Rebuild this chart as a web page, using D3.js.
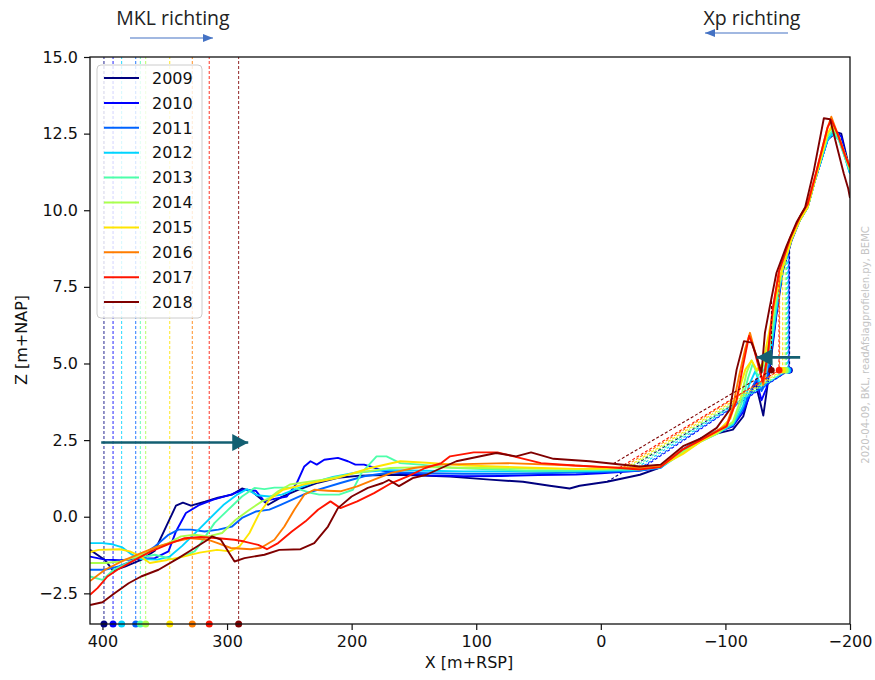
<!DOCTYPE html>
<html>
<head>
<meta charset="utf-8">
<script src="https://cdn.jsdelivr.net/npm/d3@7/dist/d3.min.js"></script>
<style>
  body { margin: 0; background: #fff; }
  text { font-family: "DejaVu Sans", sans-serif; }
</style>
</head>
<body>
<script>
/* global d3 */

// Years + jet colours
var years  = ['2009', '2010', '2011', '2012', '2013', '2014', '2015', '2016', '2017', '2018'];
var colors = ['#00007f', '#0000ff', '#0063ff', '#00d4ff', '#4dffaa', '#a9ff4d', '#ffe500', '#ff7d00', '#ff1400', '#7f0000'];

var xTicks = [400, 300, 200, 100, 0, -100, -200];
var yTicks = [-2.5, 0, 2.5, 5, 7.5, 10, 12.5, 15];

// MKL position per year (bottom dots + vertical dashed lines)
var mklX = [398.8, 391.5, 373.3, 384.6, 369.6, 365.3, 346, 327.9, 314.3, 290.7];

// Xp position per year (dashed construction lines)
var xpX     = [-151.5, -151, -150.5, -150, -149, -148, -146, -143.5, -143, -137];
var xpZ     = 4.78;
var xpTopZ  = [8.8, 8.8, 8.7, 8.7, 8.6, 8.5, 8.2, 8.0, 8.0, 7.2];
var xpFromX = [-5, -30, -28, -26, -24, -22, -20, -18, -15, -10];
var xpFromZ = [1.14, 1.5, 1.49, 1.52, 1.54, 1.59, 1.59, 1.61, 1.6, 1.73];

// Profiles [x, z]
var p2009 = [[410,-1.08],[398,-1.41],[391.5,-1.76],[382,-1.63],[369,-1.41],[358,-1.11],[349,-0.33],[341,0.36],[335.4,0.46],[329,0.36],[317.7,0.49],[307.3,0.62],[296,0.72],[288,0.92],[280,0.82],[267,0.39],[256,0.65],[243,0.88],[227,1.11],[211,1.27],[193,1.34],[161,1.37],[121,1.31],[89,1.21],[62.5,1.14],[41,1.01],[25,0.92],[17,1.01],[-5,1.14],[-31.4,1.37],[-47.5,1.6],[-66,2.16],[-79.6,2.52],[-93,2.71],[-106,2.84],[-114.3,3.27],[-118.5,3.89],[-124,4.38],[-128,3.72],[-130.4,3.3],[-133,4.05],[-137,5.3],[-141,6.6],[-146,8.0],[-153,9.0],[-160,9.7],[-166,10.1],[-172,11.0],[-182,12.3],[-189,12.55],[-193,12.5],[-197,11.8],[-200,11.3]];
var p2010 = [[410,-1.3],[398,-1.4],[386,-1.42],[372,-1.38],[358,-1.35],[347,-1.13],[341,-0.48],[333,0.12],[322,0.39],[311,0.56],[297,0.72],[287,0.88],[277,0.85],[270,0.5],[265,0.56],[252,0.66],[244,1.1],[238,1.64],[233,1.81],[228,1.7],[222,1.86],[211,1.92],[203,1.81],[197,1.7],[190,1.7],[182,1.6],[175,1.5],[160,1.42],[140,1.35],[110,1.32],[80,1.33],[50,1.36],[20,1.38],[0,1.42],[-30,1.5],[-48,1.6],[-66,2.2],[-80,2.55],[-93,2.75],[-106,2.95],[-114,3.4],[-120,4.0],[-125,4.4],[-129,3.8],[-133,4.2],[-137,5.4],[-141,6.7],[-146,8.1],[-153,9.05],[-160,9.7],[-166,10.1],[-172,11.0],[-182,12.3],[-188,12.6],[-193,12.4],[-197,11.7],[-200,11.3]];
var p2011 = [[410,-1.73],[398,-1.73],[387,-1.62],[374,-1.41],[358,-0.97],[347,-0.59],[339,-0.42],[329,-0.42],[318,-0.48],[307,-0.42],[296,-0.32],[288,-0.04],[277,0.17],[266,0.23],[257,0.39],[236,0.77],[209,1.1],[190,1.32],[168,1.45],[140,1.42],[110,1.4],[80,1.4],[50,1.42],[20,1.44],[0,1.46],[-30,1.5],[-48,1.62],[-66,2.2],[-80,2.55],[-93,2.8],[-106,3.0],[-114,3.5],[-120,4.1],[-125,4.5],[-129,4.1],[-133,4.4],[-137,5.5],[-141,6.7],[-146,8.1],[-153,9.05],[-160,9.7],[-166,10.1],[-172,11.0],[-182,12.3],[-187,12.55],[-192,12.3],[-197,11.6],[-200,11.2]];
var p2012 = [[410,-0.86],[400,-0.86],[392,-0.9],[384,-1.0],[377,-1.22],[369,-1.38],[356,-1.4],[346,-1.3],[336,-0.95],[326,-0.55],[315,-0.1],[303,0.38],[292,0.72],[284,0.9],[276,0.7],[266,0.66],[256,0.72],[245,0.9],[232,1.1],[215,1.3],[195,1.45],[170,1.52],[140,1.5],[110,1.48],[80,1.48],[50,1.48],[20,1.48],[0,1.5],[-30,1.52],[-48,1.6],[-66,2.1],[-80,2.45],[-93,2.7],[-106,3.0],[-114,3.6],[-119,4.3],[-124,4.75],[-128,4.3],[-132,4.6],[-137,5.6],[-141,6.8],[-146,8.1],[-153,9.05],[-160,9.7],[-166,10.1],[-172,11.0],[-182,12.3],[-186,12.5],[-191,12.3],[-197,11.6],[-200,11.2]];
var p2013 = [[410,-1.95],[400,-2.06],[391,-1.73],[372,-1.35],[358,-1.24],[342,-1.4],[326,-1.13],[321,-0.86],[310,-0.2],[299,0.23],[288,0.66],[278,0.94],[270,0.9],[262,0.95],[246,0.95],[235,0.8],[226,0.72],[210,0.72],[199,0.88],[192,1.43],[180,1.97],[172,1.97],[161,1.75],[145,1.7],[120,1.6],[90,1.55],[60,1.5],[30,1.5],[0,1.52],[-30,1.55],[-48,1.65],[-66,2.15],[-80,2.5],[-93,2.75],[-106,3.05],[-113,3.7],[-118,4.5],[-122,5.0],[-126,4.6],[-131,4.8],[-137,5.8],[-141,7.0],[-146,8.1],[-153,9.05],[-160,9.7],[-166,10.1],[-172,11.0],[-182,12.4],[-186,12.6],[-191,12.3],[-197,11.6],[-200,11.3]];
var p2014 = [[410,-1.51],[398,-1.51],[386,-1.46],[372,-1.3],[358,-1.02],[347,-0.86],[337,-0.64],[326,-0.59],[315,-0.64],[304,-0.53],[293,-0.1],[282,0.23],[272,0.5],[266,0.61],[259,0.83],[249.5,1.05],[223,1.21],[196,1.43],[169,1.59],[140,1.62],[110,1.6],[80,1.58],[50,1.56],[20,1.56],[0,1.57],[-30,1.6],[-48,1.65],[-66,2.1],[-80,2.45],[-93,2.7],[-106,3.1],[-112,3.8],[-117,4.7],[-121,5.1],[-125,4.75],[-130,4.9],[-136,5.9],[-140,7.0],[-145,8.0],[-153,9.05],[-160,9.7],[-166,10.1],[-172,11.0],[-182,12.5],[-186,12.7],[-191,12.4],[-197,11.7],[-200,11.3]];
var p2015 = [[410,-1.15],[403,-1.08],[386,-1.06],[378,-1.13],[370,-1.28],[362,-1.51],[348,-1.41],[335,-1.3],[322,-1.17],[308,-1.08],[298,-1.13],[290,-0.97],[282,-0.53],[274,0.12],[266,0.56],[255,0.88],[239,1.05],[212,1.26],[185,1.59],[161,1.81],[140,1.76],[108,1.67],[55,1.6],[20,1.56],[0,1.57],[-30,1.6],[-48,1.65],[-66,2.05],[-80,2.45],[-93,2.75],[-104,3.2],[-110,4.0],[-116,4.8],[-121,5.1],[-125,4.8],[-130,5.0],[-135,6.0],[-140,7.1],[-145,8.0],[-153,9.05],[-160,9.7],[-166,10.1],[-172,11.0],[-182,12.5],[-186,12.8],[-191,12.4],[-197,11.7],[-200,11.4]];
var p2016 = [[410,-2.1],[398,-1.73],[382,-1.41],[369,-1.19],[355.5,-0.97],[342,-0.81],[329,-0.7],[315.5,-0.75],[307.5,-0.86],[297,-1.02],[281,-1.06],[273,-1.02],[262,-0.75],[254,-0.32],[246,0.23],[238,0.72],[230,0.88],[219,0.85],[209,0.83],[195.5,0.99],[182,1.21],[168,1.43],[150,1.59],[129,1.7],[75,1.75],[21,1.67],[0,1.62],[-30,1.6],[-48,1.68],[-66,2.2],[-80,2.5],[-93,2.8],[-101,3.0],[-106,3.6],[-111,4.6],[-116,5.5],[-119.7,6.0],[-123,5.5],[-127,4.9],[-130.4,4.3],[-134,5.2],[-138,6.7],[-143,8.0],[-152,9.1],[-160,9.8],[-166,10.2],[-172,11.1],[-182,12.7],[-185,13.05],[-190,12.5],[-196,11.8],[-200,11.4]];
var p2017 = [[410,-2.55],[404,-2.33],[396,-1.95],[388,-1.73],[374,-1.41],[361,-1.13],[345,-0.86],[334,-0.7],[321,-0.66],[307,-0.7],[294,-0.75],[286,-0.81],[275,-0.92],[268,-1.06],[259,-0.86],[248,-0.48],[237,-0.15],[227,0.23],[217,0.5],[209,0.28],[195.5,0.5],[182,0.77],[168,1.1],[155,1.32],[141,1.59],[128,1.75],[121,1.97],[102,2.1],[83,2.1],[70,1.97],[48,1.75],[21,1.67],[-5,1.62],[-31,1.54],[-48,1.62],[-66,2.2],[-80,2.5],[-93,2.78],[-101,2.95],[-109,3.8],[-114,4.9],[-119,5.9],[-122,5.6],[-126,5.0],[-130,4.4],[-134,5.3],[-138,6.8],[-143,8.0],[-152,9.1],[-160,9.8],[-166,10.2],[-172,11.1],[-182,12.7],[-185,12.95],[-190,12.5],[-196,11.8],[-200,11.4]];
var p2018 = [[410,-2.88],[400,-2.79],[390,-2.49],[379,-2.17],[369,-1.95],[355,-1.73],[339,-1.35],[326,-1.02],[315.5,-0.75],[312,-0.64],[305,-0.75],[294,-1.46],[286,-1.35],[270,-1.24],[258,-1.08],[241,-1.06],[230,-0.86],[219,-0.32],[211,0.28],[200,0.66],[187,0.94],[175,1.1],[170,1.2],[162,1.0],[151,1.26],[140,1.37],[116,1.81],[84,2.08],[68,1.97],[56,2.1],[38,1.89],[9,1.81],[-10,1.73],[-31,1.64],[-48,1.7],[-66,2.3],[-80,2.55],[-93,2.9],[-103.6,3.5],[-109,4.8],[-114.9,5.73],[-121,5.68],[-125,5.24],[-129,4.7],[-131.7,6.0],[-135.7,6.87],[-141,7.96],[-149,8.83],[-157,9.6],[-164,10.1],[-171,11.3],[-179,13.0],[-184,12.97],[-190,12.0],[-195,11.2],[-198.6,10.7],[-200,10.4]];
var profiles = [p2009, p2010, p2011, p2012, p2013, p2014, p2015, p2016, p2017, p2018];

// Annotation arrows (data units)
var arrowMkl = {x1: 401, x2: 283, z: 2.42};
var arrowXp  = {x1: -160, x2: -125, z: 5.2};

var width = 875, height = 680;
var margin = {top: 57, right: 25, bottom: 56, left: 90};

var svg = d3.select('body').append('svg')
            .attr('width', width)
            .attr('height', height);

var x = d3.scaleLinear().domain([410, -200]).range([margin.left, width - margin.right]);
var y = d3.scaleLinear().domain([-3.5, 15]).range([height - margin.bottom, margin.top]);

svg.append('clipPath').attr('id', 'plot')
  .append('rect')
    .attr('x', margin.left).attr('y', margin.top)
    .attr('width', x.range()[1] - margin.left)
    .attr('height', y.range()[0] - margin.top);

var fmtMinus = function(s){ return s.replace('-', '\u2212'); };

// Axes
var xAxis = svg.append('g')
  .attr('transform', 'translate(0,' + y(-3.5) + ')')
  .call(d3.axisBottom(x).tickValues(xTicks).tickSize(6).tickPadding(6)
        .tickFormat(function(d){ return fmtMinus(d3.format('d')(d)); }));

var yAxis = svg.append('g')
  .attr('transform', 'translate(' + margin.left + ',0)')
  .call(d3.axisLeft(y).tickValues(yTicks).tickSize(6).tickPadding(6)
        .tickFormat(function(d){ return fmtMinus(d3.format('.1f')(d)); }));

[xAxis, yAxis].forEach(function(a){
  a.select('.domain').remove();
  a.selectAll('text').style('font-family', '"DejaVu Sans", sans-serif').style('font-size', '16px').attr('fill', '#111');
  a.selectAll('line').attr('stroke', '#111').attr('stroke-width', 1.2);
});

var chart = svg.append('g').attr('clip-path', 'url(#plot)');

var line = d3.line().x(function(d){ return x(d[0]); }).y(function(d){ return y(d[1]); });

// MKL verticals
chart.selectAll('line.mkl')
  .data(mklX)
  .enter()
  .append('line')
    .attr('x1', function(d){ return x(d); })
    .attr('x2', function(d){ return x(d); })
    .attr('y1', y(-3.5))
    .attr('y2', y(15))
    .attr('stroke', function(d, i){ return colors[i]; })
    .attr('stroke-width', 1)
    .attr('stroke-dasharray', '3,2')
    .attr('opacity', 0.85);

// Profiles + Xp construction per year
years.forEach(function(yr, i){
  chart.append('path')
    .datum([[xpFromX[i], xpFromZ[i]], [xpX[i], xpZ], [xpX[i], xpTopZ[i]]])
    .attr('d', line)
    .attr('fill', 'none')
    .attr('stroke', colors[i])
    .attr('stroke-width', 1.1)
    .attr('stroke-dasharray', '3,2');

  chart.append('path')
    .datum(profiles[i])
    .attr('d', line)
    .attr('fill', 'none')
    .attr('stroke', colors[i])
    .attr('stroke-width', 1.9)
    .attr('stroke-linejoin', 'round');

  chart.append('circle')
    .attr('cx', x(xpX[i])).attr('cy', y(xpZ)).attr('r', 3.2)
    .attr('fill', colors[i]);
});

// MKL dots on the bottom axis
svg.selectAll('circle.mkl')
  .data(mklX)
  .enter()
  .append('circle')
    .attr('cx', function(d){ return x(d); })
    .attr('cy', y(-3.5))
    .attr('r', 3.5)
    .attr('fill', function(d, i){ return colors[i]; });

// Frame
svg.append('rect')
  .attr('x', margin.left).attr('y', margin.top)
  .attr('width', x.range()[1] - margin.left)
  .attr('height', y.range()[0] - margin.top)
  .attr('fill', 'none')
  .attr('stroke', '#111')
  .attr('stroke-width', 1.3);

// Axis labels
svg.append('text')
  .attr('x', (x.range()[0] + x.range()[1]) / 2 - 1)
  .attr('y', 668)
  .attr('text-anchor', 'middle')
  .style('font-size', '16px')
  .attr('fill', '#111')
  .text('X [m+RSP]');

svg.append('text')
  .attr('transform', 'translate(27,340) rotate(-90)')
  .attr('text-anchor', 'middle')
  .style('font-size', '16px')
  .attr('fill', '#111')
  .text('Z [m+NAP]');

// Legend
var legend = svg.append('g').attr('transform', 'translate(97,65)');
legend.append('rect')
  .attr('width', 105).attr('height', 253)
  .attr('rx', 4)
  .attr('fill', '#fff').attr('fill-opacity', 0.8)
  .attr('stroke', '#ccc');

var items = legend.selectAll('g.item')
  .data(years)
  .enter()
  .append('g')
    .attr('transform', function(d, i){ return 'translate(0,' + (13 + i * 24.9) + ')'; });

items.append('line')
  .attr('x1', 7).attr('x2', 42)
  .attr('stroke', function(d, i){ return colors[i]; })
  .attr('stroke-width', 2);

items.append('text')
  .attr('x', 55).attr('dy', '0.36em')
  .style('font-size', '16px')
  .attr('fill', '#111')
  .text(function(d){ return d; });

// Direction labels
var dirFont = '"Open Sans", "Liberation Sans", sans-serif';
svg.append('text')
  .attr('x', 173).attr('y', 25)
  .attr('text-anchor', 'middle')
  .style('font-family', dirFont).style('font-size', '19.5px')
  .attr('fill', '#222')
  .text('MKL richting');

svg.append('text')
  .attr('x', 752).attr('y', 25)
  .attr('text-anchor', 'middle')
  .style('font-family', dirFont).style('font-size', '19.5px')
  .attr('fill', '#222')
  .text('Xp richting');

var defs = svg.append('defs');
defs.append('marker')
  .attr('id', 'blueHead')
  .attr('viewBox', '0 0 10 8')
  .attr('refX', 10).attr('refY', 4)
  .attr('markerWidth', 10).attr('markerHeight', 8)
  .attr('markerUnits', 'userSpaceOnUse')
  .attr('orient', 'auto')
  .append('path').attr('d', 'M0,0L10,4L0,8Z').attr('fill', '#4472c4');

defs.append('marker')
  .attr('id', 'tealHead')
  .attr('viewBox', '0 0 16 17')
  .attr('refX', 16).attr('refY', 8.5)
  .attr('markerWidth', 16).attr('markerHeight', 17)
  .attr('markerUnits', 'userSpaceOnUse')
  .attr('orient', 'auto')
  .append('path').attr('d', 'M0,0L16,8.5L0,17Z').attr('fill', '#135f72');

svg.append('line')
  .attr('x1', 130).attr('x2', 213).attr('y1', 38).attr('y2', 38)
  .attr('stroke', '#4472c4').attr('stroke-width', 1.2)
  .attr('marker-end', 'url(#blueHead)');

svg.append('line')
  .attr('x1', 788).attr('x2', 705).attr('y1', 33).attr('y2', 33)
  .attr('stroke', '#4472c4').attr('stroke-width', 1.2)
  .attr('marker-end', 'url(#blueHead)');

// Teal annotation arrows
[arrowMkl, arrowXp].forEach(function(a){
  svg.append('line')
    .attr('x1', x(a.x1)).attr('x2', x(a.x2))
    .attr('y1', y(a.z)).attr('y2', y(a.z))
    .attr('stroke', '#135f72').attr('stroke-width', 2.6)
    .attr('marker-end', 'url(#tealHead)');
});

// Stamp
svg.append('text')
  .attr('transform', 'translate(869,345) rotate(-90)')
  .attr('text-anchor', 'middle')
  .style('font-size', '10px')
  .attr('fill', '#c4c4c4')
  .text('2020-04-09, BKL, readAfslagprofielen.py, BEMC');
</script>
</body>
</html>
